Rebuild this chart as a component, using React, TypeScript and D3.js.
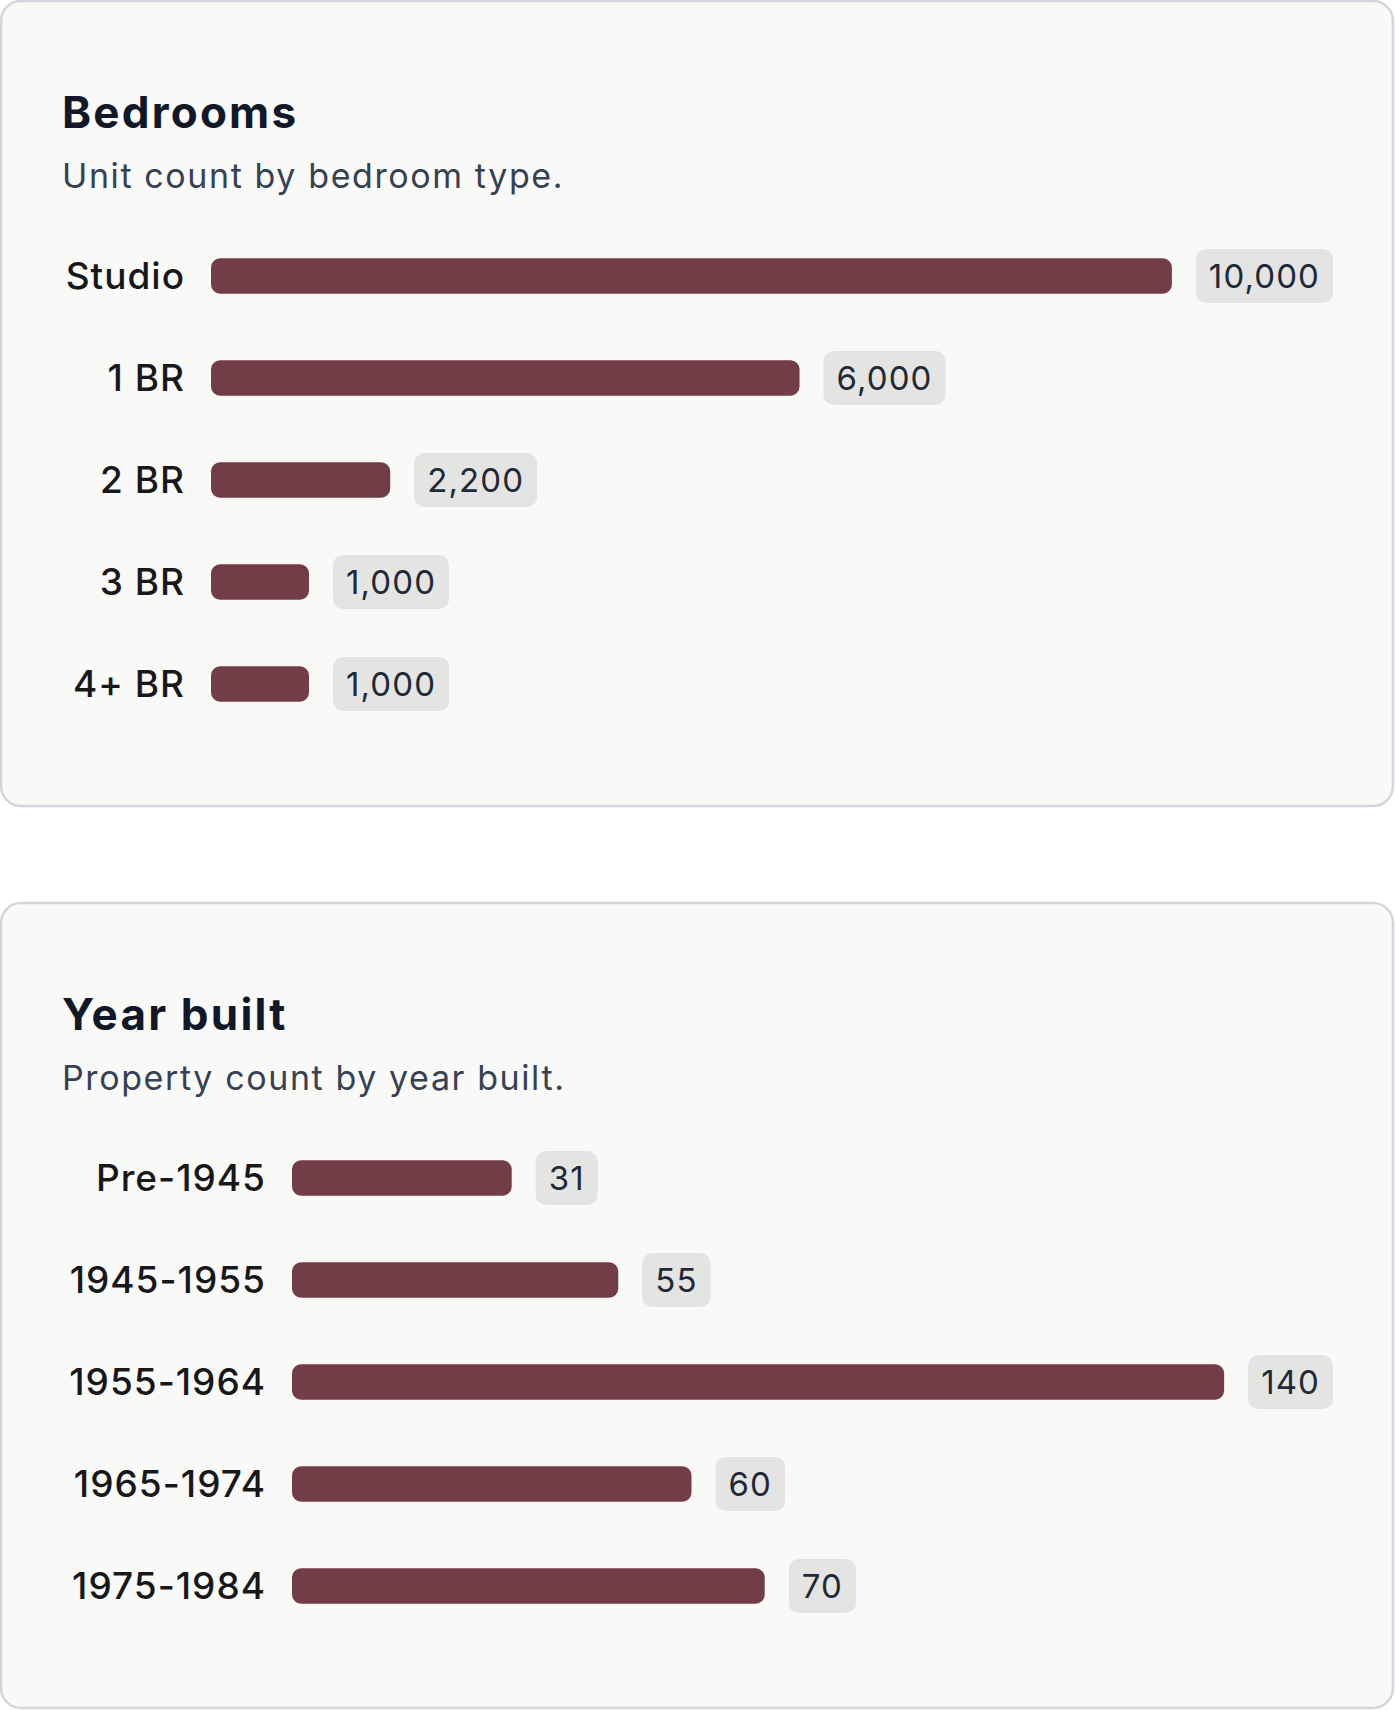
import React, { useRef, useEffect } from 'react';
import * as d3 from 'd3';

// Bedrooms card
const bedroomCategories = ['Studio', '1 BR', '2 BR', '3 BR', '4+ BR'];
const bedroomValues = [10000, 6125, 1865, 1020, 1020];
const bedroomLabels = ['10,000', '6,000', '2,200', '1,000', '1,000'];

// Year built card
const yearCategories = ['Pre-1945', '1945-1955', '1955-1964', '1965-1974', '1975-1984'];
const yearValues = [33, 49, 140, 60, 71];
const yearLabels = ['31', '55', '140', '60', '70'];

const colors = {
  card: '#f9f9f8',
  border: '#d3d6dd',
  bar: '#723d47',
  badge: '#e4e4e2',
  title: '#111827',
  subtitle: '#364152',
  label: '#18181b',
  value: '#1f2937',
};

const FONT = 'Inter, "Noto Sans", sans-serif';

interface CardSpec {
  top: number;
  title: string;
  subtitle: string;
  labelColumn: number;
  categories: string[];
  values: number[];
  labels: string[];
}

const WIDTH = 1395;
const HEIGHT = 1710;

const App: React.FC = () => {
  const svgRef = useRef<SVGSVGElement>(null);

  useEffect(() => {
    if (!svgRef.current) return;
    const svg = d3.select(svgRef.current);
    svg.selectAll('*').remove();

    const cardX = 1;
    const cardW = 1392;
    const cardH = 805;
    const padL = 61;
    const padR = 60;

    const drawCard = (spec: CardSpec) => {
      const g = svg.append('g').attr('transform', `translate(${cardX},${spec.top})`);

      g.append('rect')
        .attr('x', 0)
        .attr('y', 0)
        .attr('width', cardW)
        .attr('height', cardH)
        .attr('rx', 20)
        .attr('fill', colors.card)
        .attr('stroke', colors.border)
        .attr('stroke-width', 2.5);

      g.append('text')
        .attr('x', padL)
        .attr('y', 127)
        .attr('font-family', FONT)
        .attr('font-size', '44px')
        .attr('font-weight', 700)
        .attr('letter-spacing', '2.2px')
        .attr('fill', colors.title)
        .text(spec.title);

      g.append('text')
        .attr('x', padL)
        .attr('y', 187)
        .attr('font-family', FONT)
        .attr('font-size', '34px')
        .attr('letter-spacing', '1.6px')
        .attr('fill', colors.subtitle)
        .text(spec.subtitle);

      // measure value badges
      const measure = g.append('text')
        .attr('font-family', FONT)
        .attr('font-size', '33px')
        .attr('letter-spacing', '1.1px');
      const badgeW = spec.labels.map(l => {
        measure.text(l);
        return (measure.node() as SVGTextElement).getComputedTextLength() + 26;
      });
      measure.remove();

      const labelRight = padL + spec.labelColumn;
      const barStart = labelRight + 26;
      const barEnd = cardW - padR - d3.max(badgeW)! - 24;

      const x = d3.scaleLinear()
        .domain([0, d3.max(spec.values)!])
        .range([barStart, barEnd]);

      const y = d3.scaleBand<string>()
        .domain(spec.categories)
        .range([224, 734])
        .paddingInner(0.652)
        .paddingOuter(0.326);

      const cy = (c: string) => y(c)! + y.bandwidth() / 2;

      g.selectAll('.cat')
        .data(spec.categories)
        .enter()
        .append('text')
        .attr('class', 'cat')
        .attr('x', labelRight)
        .attr('y', d => cy(d))
        .attr('dy', '0.36em')
        .attr('font-family', FONT)
        .attr('font-size', '37px')
        .attr('font-weight', 500)
        .attr('letter-spacing', '1px')
        .attr('text-anchor', 'end')
        .attr('fill', colors.label)
        .text(d => d);

      g.selectAll('.bar')
        .data(spec.categories)
        .enter()
        .append('rect')
        .attr('class', 'bar')
        .attr('x', barStart)
        .attr('y', d => y(d)!)
        .attr('width', (d, i) => x(spec.values[i]) - barStart)
        .attr('height', y.bandwidth())
        .attr('rx', 9)
        .attr('fill', colors.bar);

      spec.categories.forEach((c, i) => {
        const bx = x(spec.values[i]) + 24;
        g.append('rect')
          .attr('x', bx)
          .attr('y', cy(c) - 27)
          .attr('width', badgeW[i])
          .attr('height', 54)
          .attr('rx', 10)
          .attr('fill', colors.badge);

        g.append('text')
          .attr('x', bx + 13)
          .attr('y', cy(c))
          .attr('dy', '0.36em')
          .attr('font-family', FONT)
          .attr('font-size', '33px')
          .attr('letter-spacing', '1.1px')
          .attr('fill', colors.value)
          .text(spec.labels[i]);
      });
    };

    drawCard({
      top: 1,
      title: 'Bedrooms',
      subtitle: 'Unit count by bedroom type.',
      labelColumn: 123,
      categories: bedroomCategories,
      values: bedroomValues,
      labels: bedroomLabels,
    });

    drawCard({
      top: 903,
      title: 'Year built',
      subtitle: 'Property count by year built.',
      labelColumn: 204,
      categories: yearCategories,
      values: yearValues,
      labels: yearLabels,
    });
  }, []);

  return (
    <svg
      ref={svgRef}
      width={WIDTH}
      height={HEIGHT}
      style={{ position: 'absolute', left: 0, top: 0, background: '#ffffff' }}
    />
  );
};

export default App;
